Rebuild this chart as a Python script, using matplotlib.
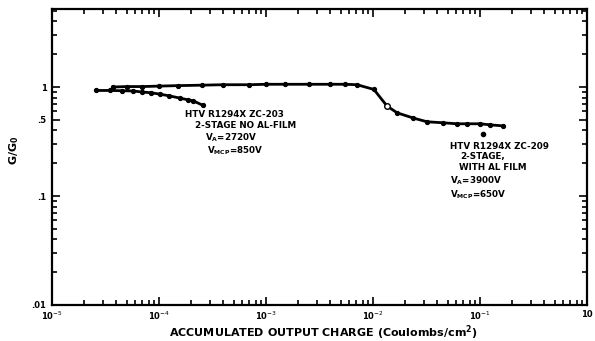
import matplotlib
matplotlib.use("Agg")
import matplotlib.pyplot as plt
from matplotlib.ticker import FixedLocator, LogLocator, NullFormatter

# --- data ---
x_zc203 = [2.6e-5, 3.5e-5, 4.5e-5, 5.7e-5, 7e-5, 8.5e-5, 1.02e-4, 1.25e-4, 1.58e-4, 1.85e-4, 2.1e-4, 2.57e-4]
y_zc203 = [0.93, 0.93, 0.925, 0.92, 0.90, 0.885, 0.86, 0.83, 0.79, 0.765, 0.745, 0.68]

x_zc209 = [3.7e-5, 5e-5, 7e-5, 1e-4, 1.5e-4, 2.5e-4, 4e-4, 7e-4, 1e-3, 1.5e-3, 2.5e-3,
           4e-3, 5.5e-3, 7.1e-3, 1.02e-2, 1.35e-2, 1.68e-2, 2.37e-2, 3.2e-2, 4.5e-2,
           6.1e-2, 7.6e-2, 1.0e-1, 1.24e-1, 1.64e-1]
y_zc209 = [1.0, 1.01, 1.01, 1.02, 1.03, 1.04, 1.05, 1.05, 1.06, 1.06, 1.06,
           1.06, 1.06, 1.05, 0.95, 0.67, 0.58, 0.52, 0.48, 0.47,
           0.46, 0.46, 0.46, 0.45, 0.44]
open_x = [1.35e-2]
open_y = [0.67]
stray_x = [1.07e-1]
stray_y = [0.37]

xticks = [1e-5, 1e-4, 1e-3, 1e-2, 1e-1, 1]
xticklabels = [r"10$^{-5}$", r"10$^{-4}$", r"10$^{-3}$", r"10$^{-2}$", r"10$^{-1}$", "10"]
yticks = [0.01, 0.1, 0.5, 1]
yticklabels = [".01", ".1", ".5", "1"]

W, H = 595, 341
fig = plt.figure(figsize=(W / 100, H / 100), dpi=100)
ax = fig.add_axes([52 / W, 1 - 305 / H, 535 / W, 296 / H])
ax.set_xscale("log")
ax.set_yscale("log")
ax.set_xlim(1e-5, 1)
ax.set_ylim(0.01, 5.2)

ax.plot(x_zc203, y_zc203, color="black", lw=2.0, marker="o", ms=2.8, zorder=3)
ax.plot(x_zc209, y_zc209, color="black", lw=2.0, marker="o", ms=2.8, zorder=3)
ax.plot(open_x, open_y, ls="none", marker="o", ms=4, mfc="white", mec="black", mew=1.0, zorder=4)
ax.plot(stray_x, stray_y, ls="none", marker="o", ms=3, color="black", zorder=4)

for s in ax.spines.values():
    s.set_linewidth(1.6)

ax.xaxis.set_major_locator(FixedLocator(xticks))
ax.set_xticklabels(xticklabels)
ax.xaxis.set_minor_locator(LogLocator(base=10, subs=range(2, 10), numticks=20))
ax.xaxis.set_minor_formatter(NullFormatter())
ax.yaxis.set_major_locator(FixedLocator(yticks))
ax.set_yticklabels(yticklabels)
ax.yaxis.set_minor_locator(LogLocator(base=10, subs=range(2, 10), numticks=20))
ax.yaxis.set_minor_formatter(NullFormatter())

ax.tick_params(which="both", direction="in", top=True, right=True, width=1.2)
ax.tick_params(which="major", length=6, labelsize=6)
ax.tick_params(axis="x", which="major", pad=3.5)
ax.tick_params(axis="y", which="major", pad=4)
ax.tick_params(which="minor", length=3.5)
for lab in ax.get_xticklabels() + ax.get_yticklabels():
    lab.set_fontweight("bold")

fig.text(323 / W, 1 - 333 / H, r"ACCUMULATED OUTPUT CHARGE (Coulombs/cm$^\mathbf{2}$)",
         ha="center", va="center", fontsize=8, fontweight="bold")
fig.text(14 / W, 1 - 150 / H, r"G/G$_\mathbf{0}$", ha="center", va="center",
         rotation=90, fontsize=8, fontweight="bold")

fs = 6.3
block1 = [
    (185, 115, "HTV R1294X ZC-203"),
    (195, 126, "2-STAGE NO AL-FILM"),
    (205, 138, r"V$_\mathbf{A}$=2720V"),
    (207, 151, r"V$_\mathbf{MCP}$=850V"),
]
block2 = [
    (450, 146, "HTV R1294X ZC-209"),
    (460, 157, "2-STAGE,"),
    (459, 168, "WITH AL FILM"),
    (450, 181, r"V$_\mathbf{A}$=3900V"),
    (450, 195, r"V$_\mathbf{MCP}$=650V"),
]
for px, py, t in block1 + block2:
    fig.text(px / W, 1 - py / H, t, ha="left", va="center", fontsize=fs, fontweight="bold")

fig.savefig("out.png", dpi=100)
